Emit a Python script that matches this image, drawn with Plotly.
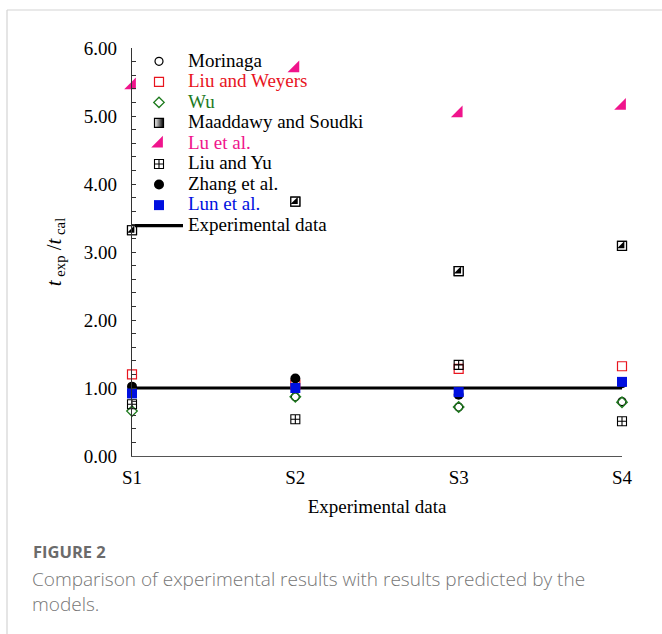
import plotly.graph_objects as go

categories = ["S1", "S2", "S3", "S4"]
morinaga = [0.95, 0.87, 0.72, 0.80]
liu_weyers = [1.20, 1.05, 1.28, 1.32]
wu = [0.66, 0.87, 0.72, 0.79]
maaddawy = [3.32, 3.74, 2.72, 3.09]
lu = [5.45, 5.70, 5.04, 5.15]
liu_yu = [0.76, 0.54, 1.34, 0.51]
zhang = [1.02, 1.14, 0.90, 1.07]
lun = [0.92, 1.00, 0.94, 1.09]
experimental = [1.0, 1.0, 1.0, 1.0]

W, H = 662, 634
ML, MR, MT, MB = 132, 40, 48, 178
PW, PH = W - ML - MR, H - MT - MB


def px(x):
    return (x - ML) / PW


def py(y):
    return (H - MB - y) / PH


def lbl(text, color="#000000"):
    return f'<span style="font-size:19px;color:{color}">{text}</span>'


RED = "#e8141e"
GREEN = "#1d7a1d"
MAG = "#f0148c"
BLUE = "#0010e0"

fig = go.Figure()

fig.add_trace(go.Scatter(x=categories, y=experimental, mode="lines",
                         line=dict(color="black", width=3.2),
                         name=lbl("Experimental data"), legendrank=9, cliponaxis=False))

fig.add_trace(go.Scatter(x=categories, y=morinaga, mode="markers", name=lbl("Morinaga"),
                         marker=dict(symbol="circle-open", size=8, color="black", line=dict(width=1.2)),
                         legendrank=1, cliponaxis=False))
fig.add_trace(go.Scatter(x=categories, y=liu_weyers, mode="markers", name=lbl("Liu and Weyers", RED),
                         marker=dict(symbol="square-open", size=9, color=RED, line=dict(width=1.2)),
                         legendrank=2, cliponaxis=False))
fig.add_trace(go.Scatter(x=categories, y=wu, mode="markers", name=lbl("Wu", GREEN),
                         marker=dict(symbol="diamond-open", size=8, color=GREEN, line=dict(width=1.4)),
                         legendrank=3, cliponaxis=False))
# legend entry (gradient square), covered on the plot by the white square + black triangle
fig.add_trace(go.Scatter(x=categories, y=maaddawy, mode="markers", name=lbl("Maaddawy and Soudki"),
                         marker=dict(symbol="square", size=9, color="white",
                                     line=dict(width=1.2, color="black"),
                                     gradient=dict(type="horizontal", color="black")),
                         legendrank=4, cliponaxis=False))
fig.add_trace(go.Scatter(x=categories, y=maaddawy, mode="markers", showlegend=False,
                         marker=dict(symbol="square", size=9, color="white",
                                     line=dict(width=1.2, color="black")),
                         cliponaxis=False))
fig.add_trace(go.Scatter(x=categories, y=maaddawy, mode="markers", showlegend=False,
                         marker=dict(symbol="triangle-se", size=8, color="black", line=dict(width=0)),
                         cliponaxis=False))
fig.add_trace(go.Scatter(x=categories, y=lu, mode="markers", name=lbl("Lu et al.", MAG),
                         marker=dict(symbol="triangle-se", size=13, color=MAG, line=dict(width=0)),
                         legendrank=5, cliponaxis=False))
fig.add_trace(go.Scatter(x=categories, y=liu_yu, mode="markers", name=lbl("Liu and Yu"),
                         marker=dict(symbol="square-cross-open", size=9, color="black", line=dict(width=1.1)),
                         legendrank=6, cliponaxis=False))
fig.add_trace(go.Scatter(x=categories, y=zhang, mode="markers", name=lbl("Zhang et al."),
                         marker=dict(symbol="circle", size=10, color="black", line=dict(width=0)),
                         legendrank=7, cliponaxis=False))
fig.add_trace(go.Scatter(x=categories, y=lun, mode="markers", name=lbl("Lun et al.", BLUE),
                         marker=dict(symbol="square", size=10, color=BLUE, line=dict(width=0)),
                         legendrank=8, cliponaxis=False))

serif = "Liberation Serif, Times New Roman, serif"

fig.update_layout(
    width=W, height=H,
    margin=dict(l=ML, r=MR, t=MT, b=MB, autoexpand=False),
    paper_bgcolor="white", plot_bgcolor="white",
    font=dict(family=serif, size=19, color="black"),
    showlegend=True,
    legend=dict(x=px(130), y=py(46), xanchor="left", yanchor="top",
                bgcolor="rgba(0,0,0,0)", borderwidth=0, itemwidth=48,
                font=dict(size=13.5, family=serif), tracegroupgap=0,
                itemclick=False),
    xaxis=dict(type="category", range=[0, 3], showgrid=False, zeroline=False,
               showline=True, linecolor="#555555", linewidth=1.2, ticks="",
               tickfont=dict(size=19, family=serif), ticklabelstandoff=4,
               title=dict(text="Experimental data", font=dict(size=19, family=serif), standoff=12)),
    yaxis=dict(range=[0, 6], dtick=1, tickformat=".2f", showgrid=False, zeroline=False,
               showline=True, linecolor="#333333", linewidth=1.2,
               ticks="inside", ticklen=4, tickcolor="#333333",
               minor=dict(dtick=0.2, ticks="inside", ticklen=4, tickcolor="#333333"),
               tickfont=dict(size=19, family=serif), ticklabelstandoff=10,
               title=dict(text="<i>t</i><sub> exp</sub> /<i>t</i><sub> cal</sub>",
                          font=dict(size=21, family=serif), standoff=16)),
    shapes=[
        dict(type="line", xref="paper", yref="paper", x0=px(7), x1=px(662), y0=py(10), y1=py(10),
             line=dict(color="#d4d4d4", width=1.2)),
        dict(type="line", xref="paper", yref="paper", x0=px(7), x1=px(7), y0=py(10), y1=py(634),
             line=dict(color="#d4d4d4", width=1.2)),
    ],
    annotations=[
        dict(text="<b>FIGURE 2</b>", xref="paper", yref="paper", x=px(31), y=py(551),
             xanchor="left", yanchor="middle", showarrow=False,
             font=dict(family="Open Sans, sans-serif", size=16.5, color="#6b6b6b")),
        dict(text="Comparison of experimental results with results predicted by the<br>models.",
             xref="paper", yref="paper", x=px(30), y=py(564), xanchor="left", yanchor="top",
             align="left", showarrow=False,
             font=dict(family="Open Sans, sans-serif", size=19, color="#767676", weight=300)),
    ],
)

fig.write_html("out.html", config={"displayModeBar": False},
               post_script="document.body.style.margin='0px';document.body.style.overflow='hidden';")
